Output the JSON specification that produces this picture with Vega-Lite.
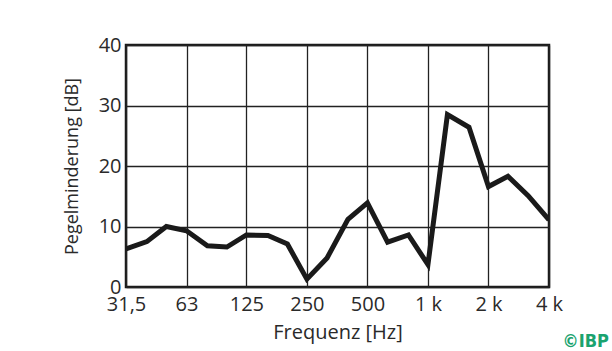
{
  "$schema": "https://vega.github.io/schema/vega-lite/v6.json",
  "width": 423,
  "height": 242,
  "autosize": "none",
  "padding": {"left": 126, "top": 45, "right": 63, "bottom": 64},
  "background": "white",
  "config": {
    "view": {"stroke": "#1a1a1a", "strokeWidth": 2.5},
    "font": "Open Sans",
    "axis": {
      "labelFont": "Open Sans",
      "labelFontSize": 20,
      "labelColor": "#2a2a2a",
      "labelFontWeight": 400,
      "titleFont": "Open Sans",
      "titleFontSize": 19,
      "titleFontWeight": 400,
      "titleColor": "#2a2a2a",
      "gridColor": "#222",
      "gridOpacity": 1,
      "gridWidth": 1.3,
      "ticks": false,
      "domain": false
    }
  },
  "title": {
    "text": "©IBP",
    "orient": "bottom",
    "anchor": "end",
    "frame": "group",
    "dx": 60,
    "offset": -9,
    "fontSize": 18,
    "fontWeight": "bold",
    "color": "#1aa36f",
    "font": "DejaVu Sans Condensed"
  },
  "data": {
    "values": [
      {"f": 31.5, "dB": 6.3},
      {"f": 40, "dB": 7.5},
      {"f": 50, "dB": 10.0},
      {"f": 63, "dB": 9.3},
      {"f": 80, "dB": 6.8},
      {"f": 100, "dB": 6.6},
      {"f": 125, "dB": 8.6},
      {"f": 160, "dB": 8.5},
      {"f": 200, "dB": 7.1},
      {"f": 250, "dB": 1.3},
      {"f": 315, "dB": 4.8},
      {"f": 400, "dB": 11.2},
      {"f": 500, "dB": 13.9},
      {"f": 630, "dB": 7.4},
      {"f": 800, "dB": 8.6},
      {"f": 1000, "dB": 3.7},
      {"f": 1250, "dB": 28.5},
      {"f": 1600, "dB": 26.4},
      {"f": 2000, "dB": 16.6},
      {"f": 2500, "dB": 18.3},
      {"f": 3150, "dB": 15.1},
      {"f": 4000, "dB": 11.1}
    ]
  },
  "mark": {"type": "line", "color": "#1a1a1a", "strokeWidth": 5, "strokeJoin": "miter", "clip": true},
  "encoding": {
    "x": {
      "field": "f",
      "type": "quantitative",
      "scale": {"type": "log", "domain": [31.5, 4000], "nice": false},
      "axis": {
        "values": [31.5, 63, 125, 250, 500, 1000, 2000, 4000],
        "labelExpr": "datum.value == 31.5 ? '31,5' : datum.value >= 1000 ? (datum.value/1000) + ' k' : datum.value + ''",
        "labelPadding": 7,
        "labelFlush": false,
        "labelOverlap": false,
        "title": "Frequenz [Hz]",
        "titleFontSize": 20,
        "titlePadding": 8
      }
    },
    "y": {
      "field": "dB",
      "type": "quantitative",
      "scale": {"domain": [0, 40], "nice": false},
      "axis": {
        "values": [0, 10, 20, 30, 40],
        "labelPadding": 5,
        "title": "Pegelminderung [dB]",
        "titleFontSize": 18,
        "titlePadding": 17
      }
    }
  }
}
